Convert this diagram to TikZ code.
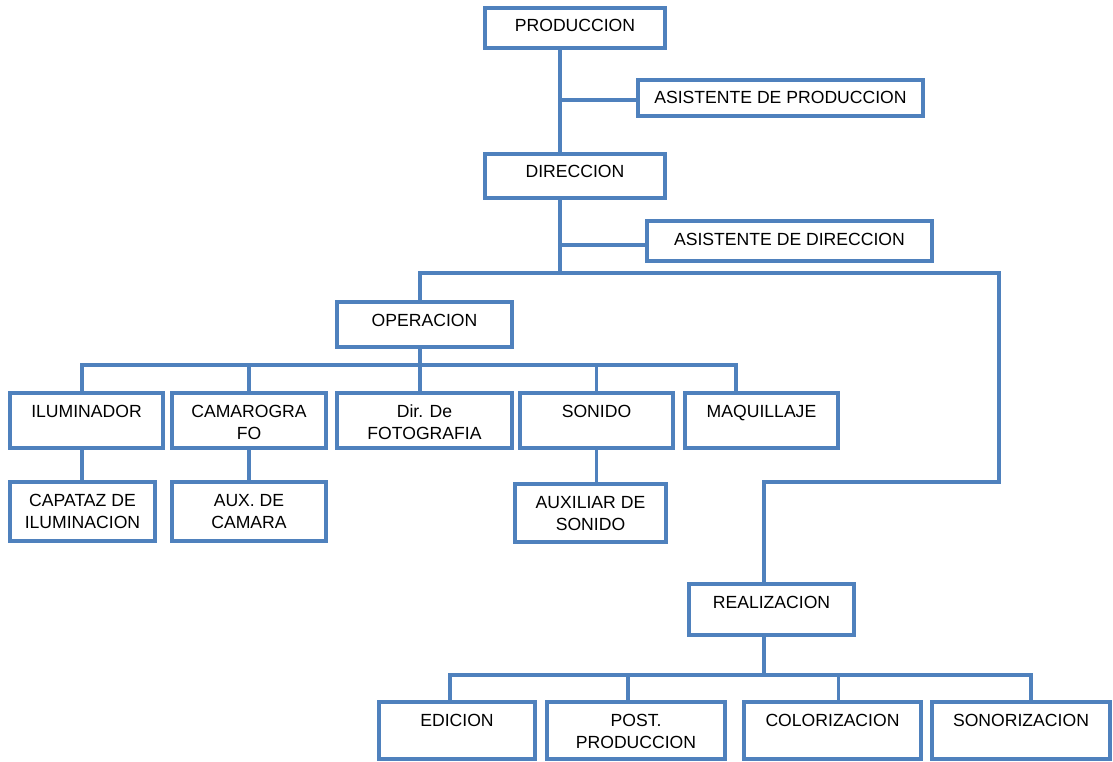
\documentclass[tikz,border=0pt]{standalone}
\usepackage{fontspec}
\setmainfont{Liberation Sans}
\definecolor{azul}{RGB}{79,129,189}

\tikzset{
	caja/.style={draw=azul, line width=3.5pt, anchor=north west, outer sep=0pt,
		inner xsep=0pt, inner ysep=0pt, text height=24pt, align=center,
		font=\fontsize{17.6}{22}\selectfont},
	doble/.style={text height=46pt},
	linea/.style={draw=azul, line width=3.5pt}
}

\begin{document}
\begin{tikzpicture}[x=1pt, y=-1pt]
	\fill[white] (0,0) rectangle (1113,762);
	\useasboundingbox (0,0) rectangle (1113,762);

	% cajas
	\node[caja, minimum width=180pt, text depth=16pt] (prod) at (485,8) {PRODUCCION};
	\node[caja, minimum width=285pt, text depth=12pt] (asprod) at (638,80) {ASISTENTE DE PRODUCCION};
	\node[caja, minimum width=180pt, text depth=20pt] (dir) at (485,154) {DIRECCION};
	\node[caja, minimum width=285pt, text depth=16pt] (asdir) at (647,221) {ASISTENTE DE DIRECCION};
	\node[caja, minimum width=175pt, text depth=21pt] (oper) at (337,302) {OPERACION};

	\node[caja, minimum width=153pt, text depth=31pt] (ilum) at (10,393) {ILUMINADOR};
	\node[caja, doble, minimum width=154pt, text depth=9pt] (cam) at (172,393) {CAMAROGRA\\FO};
	\node[caja, doble, minimum width=175pt, text depth=9pt] (fot) at (337,393) {Dir. De\\FOTOGRAFIA};
	\node[caja, minimum width=153pt, text depth=31pt] (son) at (520,393) {SONIDO};
	\node[caja, minimum width=153pt, text depth=31pt] (maq) at (685,393) {MAQUILLAJE};

	\node[caja, doble, minimum width=145pt, text depth=13pt] (capa) at (10,482) {CAPATAZ DE\\ILUMINACION};
	\node[caja, doble, minimum width=154pt, text depth=13pt] (auxcam) at (172,482) {AUX. DE\\CAMARA};
	\node[caja, doble, minimum width=151pt, text depth=12pt] (auxson) at (515,484) {AUXILIAR DE\\SONIDO};

	\node[caja, minimum width=165pt, text depth=27pt] (real) at (689,584) {REALIZACION};
	\node[caja, minimum width=156pt, text depth=33pt] (edic) at (379,702) {EDICION};
	\node[caja, doble, minimum width=178pt, text depth=11pt] (post) at (547,702) {POST.\\PRODUCCION};
	\node[caja, minimum width=177pt, text depth=33pt] (color) at (744,702) {COLORIZACION};
	\node[caja, minimum width=178pt, text depth=33pt] (sonor) at (932,702) {SONORIZACION};

	% ejes y barras
	\coordinate (eje) at (560,0);
	\coordinate (barraA) at (420,273);
	\coordinate (barraA2) at (999,273);
	\coordinate (codo) at (764,482);
	\coordinate (barraB) at (82,365);
	\coordinate (barraB2) at (736,365);
	\coordinate (barraC) at (450,675);
	\coordinate (barraC2) at (1031,675);

	\draw[linea] (prod.south -| eje) -- (dir.north -| eje);
	\draw[linea] ([yshift=-2pt]eje |- asprod.west) -- ([yshift=-2pt]asprod.west);
	\draw[linea] (dir.south -| eje) -- (eje |- barraA);
	\draw[linea] ([yshift=-4pt]eje |- asdir.west) -- ([yshift=-4pt]asdir.west);
	\draw[linea] (oper.north -| barraA) -- (barraA) -- (barraA2) |- (codo) -- (real.north -| codo);

	\draw[linea] (oper.south -| barraA) -- (barraA |- barraB);
	\draw[linea] (ilum.north -| barraB) -- (barraB) -- (barraB2) -- (maq.north -| barraB2);
	\draw[linea] (cam.north) -- (cam.north |- barraB);
	\draw[linea] (fot.north -| barraA) -- (barraA |- barraB);
	\draw[linea] (son.north) -- (son.north |- barraB);
	\draw[linea] (ilum.south -| barraB) -- (capa.north -| barraB);
	\draw[linea] (cam.south) -- (auxcam.north);
	\draw[linea] (son.south) -- (son.south |- auxson.north);

	\draw[linea] (real.south -| codo) -- (codo |- barraC);
	\draw[linea] (edic.north -| barraC) -- (barraC) -- (barraC2) -- (sonor.north -| barraC2);
	\draw[linea] ([xshift=-8pt]post.north) -- ([xshift=-8pt]post.north |- barraC);
	\draw[linea] ([xshift=6pt]color.north) -- ([xshift=6pt]color.north |- barraC);
\end{tikzpicture}
\end{document}
